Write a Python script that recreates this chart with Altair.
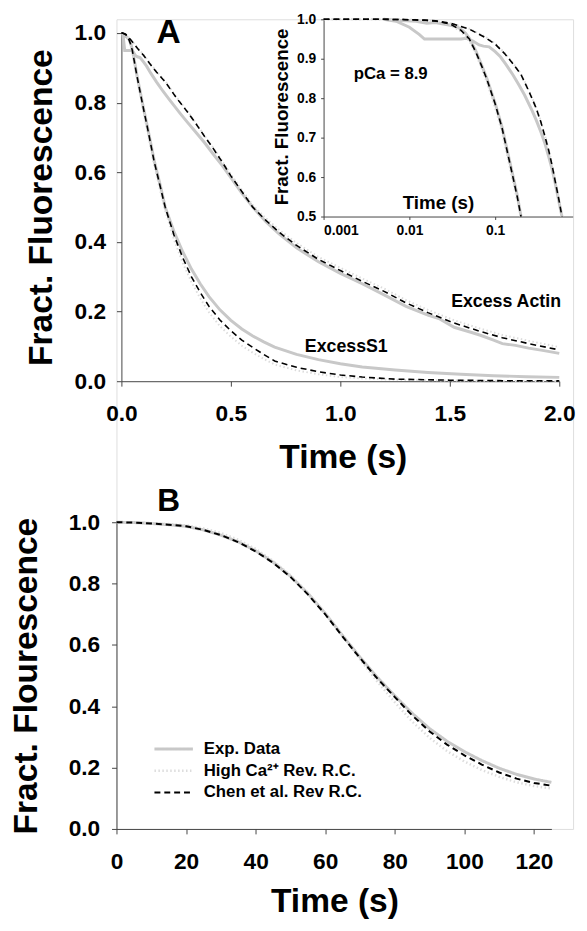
import altair as alt
import pandas as pd

FONT = "Liberation Sans"

# ---------------- Panel A : Excess S1 ----------------
S1_T = [0, 0.001, 0.002, 0.005, 0.01, 0.015, 0.02, 0.03, 0.04, 0.05, 0.06, 0.07, 0.08,
        0.10, 0.12, 0.15, 0.18, 0.20, 0.24, 0.28, 0.32, 0.36, 0.40, 0.45, 0.50, 0.55,
        0.60, 0.65, 0.70, 0.80, 0.90, 1.00, 1.10, 1.25, 1.50, 1.75, 2.00]
S1_CHEN = [1.0, 1.0, 1.0, 1.0, 0.999, 0.998, 0.996, 0.988, 0.972, 0.950, 0.915, 0.88, 0.848,
           0.785, 0.725, 0.630, 0.552, 0.500, 0.420, 0.355, 0.300, 0.255, 0.215, 0.176, 0.145,
           0.118, 0.097, 0.077, 0.058, 0.040, 0.027, 0.018, 0.012, 0.006, 0.003, 0.0015, 0.001]
S1_HIGH = [1.0, 1.0, 1.0, 1.0, 0.999, 0.998, 0.995, 0.986, 0.968, 0.945, 0.91, 0.873, 0.84,
           0.775, 0.713, 0.618, 0.54, 0.49, 0.407, 0.34, 0.285, 0.238, 0.198, 0.158, 0.128,
           0.102, 0.082, 0.064, 0.048, 0.031, 0.02, 0.012, 0.008, 0.004, 0.002, 0.001, 0.0005]
S1G_T = [0.005, 0.008, 0.012, 0.016, 0.02, 0.025, 0.03, 0.035, 0.04, 0.045, 0.05, 0.06, 0.07,
         0.08, 0.10, 0.12, 0.15, 0.18, 0.20, 0.24, 0.28, 0.32, 0.36, 0.40, 0.45, 0.50, 0.55,
         0.60, 0.65, 0.70, 0.80, 0.90, 1.00, 1.10, 1.25, 1.40, 1.55, 1.70, 1.85, 2.00]
S1G_F = [1.0, 0.997, 0.995, 0.99, 0.992, 0.988, 0.985, 0.982, 0.975, 0.965, 0.952, 0.918, 0.882,
         0.85, 0.787, 0.727, 0.633, 0.556, 0.500, 0.43, 0.372, 0.322, 0.28, 0.243, 0.205, 0.175,
         0.15, 0.13, 0.113, 0.098, 0.077, 0.062, 0.05, 0.041, 0.032, 0.025, 0.02, 0.016, 0.013, 0.011]

# ---------------- Panel A : Excess Actin ----------------
AC_T = [0, 0.001, 0.005, 0.01, 0.02, 0.03, 0.05, 0.075, 0.10, 0.13, 0.16, 0.20, 0.25, 0.30,
        0.34, 0.38, 0.42, 0.46, 0.50, 0.55, 0.60, 0.66, 0.72, 0.80, 0.90, 1.00, 1.10, 1.20,
        1.30, 1.40, 1.52, 1.64, 1.74, 1.86, 2.00]
AC_CHEN = [1.0, 1.0, 1.0, 0.999, 0.996, 0.99, 0.975, 0.955, 0.937, 0.912, 0.888, 0.86, 0.815,
           0.775, 0.74, 0.703, 0.668, 0.63, 0.59, 0.545, 0.50, 0.462, 0.428, 0.39, 0.35, 0.318,
           0.287, 0.258, 0.225, 0.197, 0.167, 0.143, 0.125, 0.108, 0.09]
AC_HIGH = [1.0, 1.0, 1.0, 0.999, 0.996, 0.99, 0.976, 0.957, 0.939, 0.914, 0.89, 0.862, 0.817,
           0.777, 0.742, 0.705, 0.67, 0.633, 0.594, 0.55, 0.506, 0.468, 0.435, 0.397, 0.357,
           0.326, 0.295, 0.266, 0.233, 0.205, 0.175, 0.151, 0.133, 0.116, 0.098]
ACG_T = [0.005, 0.007, 0.01, 0.013, 0.015, 0.02, 0.03, 0.04, 0.046, 0.055, 0.065, 0.073, 0.085,
         0.10, 0.115, 0.134, 0.16, 0.19, 0.22, 0.27, 0.30, 0.34, 0.38, 0.42, 0.46, 0.50, 0.55,
         0.60, 0.66, 0.72, 0.80, 0.90, 1.00, 1.10, 1.20, 1.30, 1.40, 1.45, 1.52, 1.60, 1.64,
         1.70, 1.74, 1.80, 1.86, 1.93, 2.00]
ACG_F = [1.0, 0.995, 0.98, 0.962, 0.95, 0.95, 0.95, 0.95, 0.952, 0.945, 0.935, 0.932, 0.93,
         0.918, 0.905, 0.885, 0.86, 0.833, 0.808, 0.768, 0.745, 0.715, 0.685, 0.652, 0.62, 0.585,
         0.54, 0.50, 0.458, 0.423, 0.383, 0.343, 0.31, 0.28, 0.248, 0.215, 0.19, 0.18, 0.155,
         0.14, 0.132, 0.118, 0.108, 0.103, 0.095, 0.088, 0.08]

# ---------------- Panel B ----------------
B_T = [0, 5, 10, 15, 20, 25, 30, 35, 40, 45, 50, 55, 60, 65, 70, 75, 80, 85, 90, 95, 100,
       105, 110, 115, 120, 125]
B_EXP = [1.0, 0.999, 0.996, 0.992, 0.987, 0.975, 0.958, 0.936, 0.907, 0.87, 0.824, 0.768,
         0.703, 0.63, 0.56, 0.494, 0.434, 0.377, 0.327, 0.286, 0.252, 0.223, 0.198, 0.178,
         0.163, 0.152]
B_HIGH = [1.0, 0.999, 0.997, 0.994, 0.99, 0.98, 0.965, 0.943, 0.913, 0.874, 0.827, 0.77,
          0.703, 0.63, 0.553, 0.48, 0.413, 0.35, 0.297, 0.254, 0.22, 0.192, 0.17, 0.152,
          0.14, 0.132]
B_CHEN = [1.0, 0.999, 0.996, 0.992, 0.987, 0.975, 0.958, 0.935, 0.905, 0.868, 0.822, 0.765,
          0.70, 0.627, 0.557, 0.49, 0.43, 0.37, 0.318, 0.275, 0.24, 0.21, 0.184, 0.164,
          0.15, 0.141]
LEGEND = ["Exp. Data", "High Ca²⁺ Rev. R.C.", "Chen et al. Rev R.C."]

# ---------------- tick values / labels ----------------
A_XTICKS = [0, 0.5, 1.0, 1.5, 2.0]
A_YTICKS = [0, 0.2, 0.4, 0.6, 0.8, 1.0]
I_XTICKS = [0.001, 0.01, 0.1]
I_YTICKS = [0.5, 0.6, 0.7, 0.8, 0.9, 1.0]
B_XTICKS = [0, 20, 40, 60, 80, 100, 120]
B_YTICKS = [0, 0.2, 0.4, 0.6, 0.8, 1.0]

A_TEXT = pd.DataFrame({"t": [0.216, 1.757, 1.027], "F": [1.0, 0.227, 0.099],
                       "label": ["A", "Excess Actin", "ExcessS1"], "size": [34, 18, 18]})
I_TEXT = pd.DataFrame({"t": [0.00605], "F": [0.86], "label": ["pCa = 8.9"]})
B_TEXT = pd.DataFrame({"t": [15.0], "F": [1.069], "label": ["B"]})


def frame(t, f):
    return pd.DataFrame({"t": t, "F": f})


def inset(d):
    return d[(d.t > 0) & (d.t <= 0.8) & (d.F >= 0.5)]


GRAY = "#c8c8c8"
DOT = "#dcdcdc"
AX = dict(grid=False, domainColor="#444444", tickColor="#444444", labelFont=FONT,
          labelFontWeight="bold", labelColor="black", titleFont=FONT,
          titleFontWeight="bold", titleColor="black", labelFlush=False)

H = 821

xA = alt.X("t:Q", scale=alt.Scale(domain=[0, 2], range=[5, 449], nice=False, zero=False),
           axis=alt.Axis(orient="bottom", offset=367 - H, values=A_XTICKS, format=".1f",
                         tickSize=5, labelFontSize=23, labelPadding=17, title="Time (s)",
                         titleFontSize=34, titleX=229.5, titleY=87,
                         titleBaseline="alphabetic", titleAlign="center", **AX))
yA = alt.Y("F:Q", scale=alt.Scale(domain=[0, 1], range=[367, 14], nice=False, zero=False),
           axis=alt.Axis(orient="left", offset=-5, values=A_YTICKS, format=".1f",
                         tickSize=5, labelFontSize=23, labelPadding=11,
                         title="Fract. Fluorescence", titleFontSize=34, titleX=-81,
                         titleY=190.5, titleAngle=270, titleBaseline="middle",
                         titleAlign="center", **AX))

xI = alt.X("t:Q", scale=alt.Scale(type="log", domain=[0.001, 0.8], range=[210, 462.6], nice=False),
           axis=alt.Axis(orient="bottom", offset=200 - H, values=I_XTICKS, format="~g",
                         tickSize=3, labelFontSize=14, labelPadding=4, title="Time (s)",
                         titleFontSize=19, titleX=326, titleY=-8, titleBaseline="alphabetic",
                         titleAlign="center", **{**AX, "labelFlush": True}))
yI = alt.Y("F:Q", scale=alt.Scale(domain=[0.5, 1], range=[200, 0], nice=False, zero=False),
           axis=alt.Axis(orient="left", offset=-210, values=I_YTICKS, format=".1f",
                         tickSize=3, labelFontSize=14, labelPadding=5,
                         title="Fract. Fluorescence", titleFontSize=19, titleX=-43,
                         titleY=98.5, titleAngle=270, titleBaseline="middle",
                         titleAlign="center", **AX))

xB = alt.X("t:Q", scale=alt.Scale(domain=[0, 125], range=[0, 441], nice=False, zero=False),
           axis=alt.Axis(orient="bottom", offset=0, values=B_XTICKS, format="d",
                         tickSize=5, labelFontSize=23, labelPadding=17, title="Time (s)",
                         titleFontSize=34, titleX=221, titleY=84, titleBaseline="alphabetic",
                         titleAlign="center", **AX))
yB = alt.Y("F:Q", scale=alt.Scale(domain=[0, 1], range=[821, 510], nice=False, zero=False),
           axis=alt.Axis(orient="left", offset=0, values=B_YTICKS, format=".1f",
                         tickSize=5, labelFontSize=23, labelPadding=12,
                         title="Fract. Flourescence", titleFontSize=34, titleX=-91,
                         titleY=665.5, titleAngle=270, titleBaseline="middle",
                         titleAlign="center", **AX))


def gray(d, x, y):
    return alt.Chart(d).mark_line(color=GRAY, strokeWidth=3).encode(x=x, y=y)


def dotted(d, x, y):
    return alt.Chart(d).mark_line(color=DOT, strokeWidth=2, strokeDash=[1.5, 2.5]).encode(x=x, y=y)


def dashed(d, x, y):
    return alt.Chart(d).mark_line(color="black", strokeWidth=1.6, strokeDash=[6, 4]).encode(x=x, y=y)


s1g, s1h, s1c = frame(S1G_T, S1G_F), frame(S1_T, S1_HIGH), frame(S1_T, S1_CHEN)
acg, ach, acc = frame(ACG_T, ACG_F), frame(AC_T, AC_HIGH), frame(AC_T, AC_CHEN)

groupA = alt.layer(
    gray(s1g, xA, yA), gray(acg, xA, yA),
    dotted(s1h, xA, yA), dotted(ach, xA, yA),
    dashed(s1c, xA, yA), dashed(acc, xA, yA),
    alt.Chart(A_TEXT).mark_text(font=FONT, fontWeight="bold", align="center",
                                baseline="middle", color="black").encode(
        x=xA, y=yA, text="label:N", size=alt.Size("size:Q", scale=None, legend=None)),
)

groupI = alt.layer(
    gray(inset(s1g), xI, yI), gray(inset(acg), xI, yI),
    dotted(inset(s1h), xI, yI), dotted(inset(ach), xI, yI),
    dashed(inset(s1c), xI, yI), dashed(inset(acc), xI, yI),
    alt.Chart(I_TEXT).mark_text(font=FONT, fontWeight="bold", fontSize=17, align="center",
                                baseline="middle", color="black").encode(x=xI, y=yI, text="label:N"),
)

b_df = pd.concat([
    pd.DataFrame({"t": B_T, "F": B_EXP, "series": LEGEND[0]}),
    pd.DataFrame({"t": B_T, "F": B_HIGH, "series": LEGEND[1]}),
    pd.DataFrame({"t": B_T, "F": B_CHEN, "series": LEGEND[2]}),
])

leg = alt.Legend(title=None, orient="none", legendX=37, legendY=729, symbolType="stroke",
                 symbolSize=1521, symbolStrokeWidth=2, labelFont=FONT, labelFontSize=17,
                 labelFontWeight="bold", labelColor="black", labelOffset=9.5, clipHeight=22,
                 rowPadding=0, padding=0, labelLimit=300)

groupB = alt.layer(
    alt.Chart(b_df).mark_line().encode(
        x=xB, y=yB,
        color=alt.Color("series:N", scale=alt.Scale(domain=LEGEND, range=[GRAY, DOT, "black"]),
                        legend=leg, sort=LEGEND),
        strokeDash=alt.StrokeDash("series:N", scale=alt.Scale(domain=LEGEND,
                                  range=[[1, 0], [1.5, 2.5], [6, 4]]), legend=leg, sort=LEGEND),
        strokeWidth=alt.StrokeWidth("series:N", scale=alt.Scale(domain=LEGEND, range=[3, 2, 1.6]),
                                    legend=None),
        order=alt.Order("series:N", sort="ascending"),
    ),
    alt.Chart(B_TEXT).mark_text(font=FONT, fontWeight="bold", fontSize=32, align="center",
                                baseline="middle", color="black").encode(x=xB, y=yB, text="label:N"),
)

chart = alt.layer(groupA, groupI, groupB).resolve_scale(
    x="independent", y="independent"
).properties(
    width=463, height=H,
    autosize=alt.AutoSizeParams(type="none"),
    padding={"left": 110, "top": 5, "right": 6, "bottom": 95},
).configure_view(stroke=None).configure(font=FONT)

chart.save("out.html", embed_options={"renderer": "svg", "actions": False})
